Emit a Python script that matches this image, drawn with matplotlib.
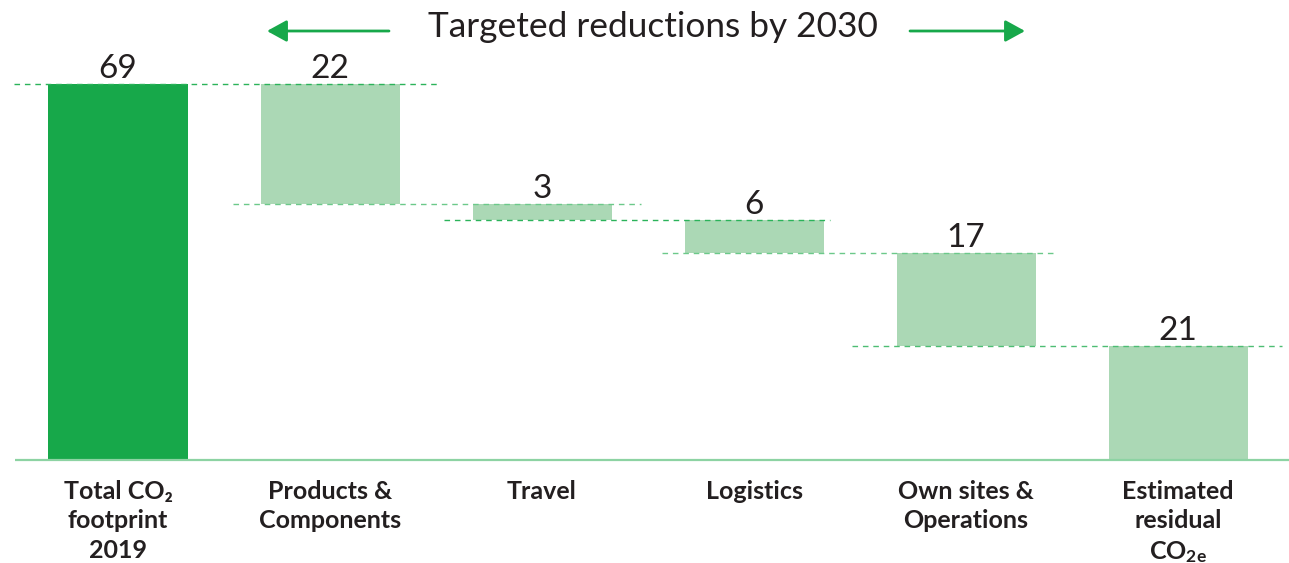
import matplotlib
matplotlib.use("Agg")
import matplotlib.pyplot as plt

# ---- data ----
categories = ["Total CO\u2082\nfootprint\n2019", "Products &\nComponents", "Travel",
              "Logistics", "Own sites &\nOperations",
              "Estimated\nresidual\nCO$_\\mathbf{2e}$"]
values = [69, 22, 3, 6, 17, 21]
kinds = ["total", "reduction", "reduction", "reduction", "reduction", "total"]
title = "Targeted reductions by 2030"

plt.rcParams["font.family"] = ["Lato", "DejaVu Sans"]
plt.rcParams["mathtext.fontset"] = "custom"
plt.rcParams["mathtext.rm"] = "Lato"
plt.rcParams["mathtext.bf"] = "Lato:bold"
plt.rcParams["mathtext.it"] = "Lato:italic"

W, H = 1289, 563
fig = plt.figure(figsize=(W / 100, H / 100), dpi=100)
ax = fig.add_axes([0, 0, 1, 1])

px_per_unit_x = 212.0
px_per_unit_y = 5.45
x0_px, base_px = 118, 460
ax.set_xlim(-x0_px / px_per_unit_x, (W - x0_px) / px_per_unit_x)
ax.set_ylim(-(H - base_px) / px_per_unit_y, base_px / px_per_unit_y)
ax.axis("off")

dark = "#17a84a"
light = "#abd8b5"
txt = "#231f20"

# compute waterfall bottoms
bottoms, tops = [], []
level = 0
for v, k in zip(values, kinds):
    if k == "total" and len(bottoms) == 0:
        b, t = 0, v
        level = v
    elif k == "total":
        b, t = 0, v
    else:
        t = level
        b = level - v
        level = b
    bottoms.append(b)
    tops.append(t)

xs = list(range(len(values)))
bw = 139 / px_per_unit_x
colors = [dark] + [light] * (len(values) - 1)
heights = [t - b for t, b in zip(tops, bottoms)]
ax.bar(xs, heights, bottom=bottoms, width=bw, color=colors, linewidth=0, zorder=2)

# connectors (dashed), extensions in px beyond bar edges
ext_left = [34, 28, 29, 23, 45]
ext_right = [40, 29, 6, 21, 34]
conn_colors = ["#2bb35a", "#6cc98a", "#2bb35a", "#6cc98a", "#4dbd73"]
for i in range(len(values) - 1):
    y = bottoms[i] if i > 0 else tops[i]
    xa = xs[i] - bw / 2 - ext_left[i] / px_per_unit_x
    xb = xs[i + 1] + bw / 2 + ext_right[i] / px_per_unit_x
    ax.plot([xa, xb], [y, y], color=conn_colors[i], lw=1.0,
            dashes=(4, 3.5), zorder=3)

# baseline
ax.plot([-(x0_px - 15) / px_per_unit_x, (W - x0_px) / px_per_unit_x], [0, 0],
        color="#8dd3a3", lw=1.6, zorder=3, solid_capstyle="butt")

# value labels
for x, t, v in zip(xs, tops, values):
    ax.text(x, t + 6 / px_per_unit_y, f"{v}", ha="center", va="baseline",
            fontsize=24, color=txt)

# category labels
for x, c in zip(xs, categories):
    ax.text(x, -(480 - base_px) / px_per_unit_y, c, ha="center", va="top",
            fontsize=18, fontweight="bold", color=txt, linespacing=1.33)

# title with arrows
fig.text(653 / W, 1 - 27 / H, title, ha="center", va="center",
         fontsize=25.4, color=txt)
arrow_y = 1 - 31 / H
for tip, tail in [(267, 389), (1025, 910)]:
    ax.annotate("", xy=(tip / W, arrow_y), xytext=(tail / W, arrow_y),
                xycoords="figure fraction", textcoords="figure fraction",
                arrowprops=dict(arrowstyle="-|>,head_length=0.6,head_width=0.33",
                                color=dark, lw=2, mutation_scale=20,
                                shrinkA=0, shrinkB=0))

fig.savefig("out.png", dpi=100)
